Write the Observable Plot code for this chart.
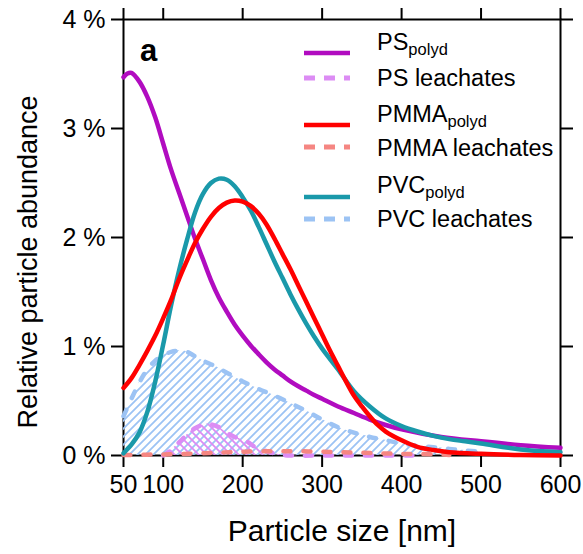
<!DOCTYPE html>
<html><head><meta charset="utf-8">
<script src="https://cdn.jsdelivr.net/npm/d3@7"></script>
<script src="https://cdn.jsdelivr.net/npm/@observablehq/plot@0.6"></script>
<style>
body{margin:0;background:#fff;}
#chart{position:relative;width:583px;height:554px;}
</style>
</head><body>
<svg width="0" height="0" style="position:absolute">
  <defs>
    <pattern id="hatchPVC" patternUnits="userSpaceOnUse" width="8" height="8">
      <path d="M-2,2 l4,-4 M0,8 l8,-8 M6,10 l4,-4" stroke="#9cc3f4" stroke-width="1.8" fill="none"/>
    </pattern>
    <pattern id="hatchPS" patternUnits="userSpaceOnUse" width="8" height="8">
      <path d="M-2,6 l4,4 M0,0 l8,8 M6,-2 l4,4" stroke="#dc8cf4" stroke-width="1.8" fill="none"/>
    </pattern>
  </defs>
</svg>
<div id="chart"></div>
<script>
// ---- data ----
const xTicks = [50, 100, 200, 300, 400, 500, 600];
const yTicks = [0, 1, 2, 3, 4];

const sizePS = [50, 55, 60, 70, 80, 90, 100, 110, 120, 130, 140, 150, 160, 170, 180, 190, 200, 210, 220, 230, 240, 250, 260, 270, 280, 290, 300, 320, 340, 360, 380, 400, 450, 500, 550, 600];
const psPolyd = [3.47, 3.505, 3.51, 3.43, 3.29, 3.10, 2.86, 2.62, 2.41, 2.20, 1.99, 1.80, 1.61, 1.45, 1.32, 1.20, 1.10, 1.01, 0.93, 0.855, 0.79, 0.735, 0.68, 0.635, 0.595, 0.555, 0.52, 0.45, 0.39, 0.33, 0.28, 0.24, 0.17, 0.13, 0.095, 0.07];

const sizePMMA = [50, 60, 70, 80, 90, 100, 110, 120, 130, 140, 150, 160, 170, 180, 190, 200, 210, 220, 230, 240, 250, 260, 270, 280, 290, 300, 310, 320, 330, 340, 350, 360, 370, 380, 400, 420, 440, 460, 500, 550, 600];
const pmmaPolyd = [0.62, 0.71, 0.83, 0.96, 1.10, 1.26, 1.43, 1.62, 1.79, 1.95, 2.08, 2.19, 2.27, 2.32, 2.34, 2.33, 2.29, 2.22, 2.12, 1.99, 1.85, 1.71, 1.56, 1.41, 1.26, 1.11, 0.96, 0.82, 0.68, 0.55, 0.45, 0.36, 0.28, 0.22, 0.14, 0.08, 0.05, 0.03, 0.015, 0.005, 0.0];

const sizePVC = [50, 55, 60, 70, 80, 90, 100, 110, 120, 130, 140, 150, 160, 170, 180, 190, 200, 210, 220, 230, 240, 250, 260, 270, 280, 290, 300, 320, 340, 360, 380, 400, 420, 440, 460, 480, 500, 550, 600];
const pvcPolyd = [0.02, 0.06, 0.10, 0.21, 0.40, 0.68, 1.02, 1.38, 1.70, 1.98, 2.23, 2.40, 2.50, 2.54, 2.53, 2.47, 2.37, 2.25, 2.10, 1.94, 1.78, 1.63, 1.48, 1.34, 1.21, 1.09, 0.98, 0.79, 0.59, 0.45, 0.34, 0.27, 0.22, 0.18, 0.15, 0.13, 0.11, 0.055, 0.03];

const sizePSl = [100, 110, 120, 130, 140, 155, 170, 180, 190, 205, 215, 230, 245, 260, 300, 350, 420];
const psLeach = [0.0, 0.05, 0.12, 0.19, 0.25, 0.29, 0.26, 0.21, 0.17, 0.13, 0.08, 0.04, 0.01, 0.0, 0.0, 0.0, 0.0];

const sizePMMAl = [50, 100, 150, 200, 250, 300, 350, 400, 450, 460];
const pmmaLeach = [0.005, 0.01, 0.02, 0.035, 0.04, 0.035, 0.025, 0.015, 0.01, 0.005];

const sizePVCl = [50, 60, 70, 80, 90, 100, 110, 120, 130, 140, 150, 165, 180, 200, 220, 240, 260, 280, 300, 320, 340, 360, 380, 400, 420, 440, 460, 480, 500];
const pvcLeach = [0.36, 0.52, 0.67, 0.79, 0.87, 0.92, 0.95, 0.96, 0.95, 0.91, 0.87, 0.82, 0.76, 0.68, 0.61, 0.55, 0.48, 0.41, 0.33, 0.26, 0.21, 0.17, 0.14, 0.11, 0.09, 0.075, 0.06, 0.045, 0.035];

const seriesNames = ["PS", "PS leachates", "PMMA", "PMMA leachates", "PVC", "PVC leachates"];
const seriesSubs = ["polyd", null, "polyd", null, "polyd", null];
const seriesColors = ["#b10cc0", "#dc8cf4", "#ff0000", "#f58682", "#1a99aa", "#9cc3f4"];

const rows = (xs, ys) => xs.map((x, i) => ({x, y: ys[i]}));
const C = {ps: "#b10cc0", psl: "#dc8cf4", pmma: "#ff0000", pmmal: "#f58682", pvc: "#1a99aa", pvcl: "#9cc3f4"};
const dash = {strokeWidth: 4.5, strokeDasharray: "7,13", strokeLinecap: "round", curve: "catmull-rom"};
const solid = {strokeWidth: 4.5, curve: "catmull-rom"};

const chart = Plot.plot({
  width: 583, height: 554,
  marginLeft: 123, marginRight: 23, marginTop: 19, marginBottom: 99,
  x: {domain: [50, 600]},
  y: {domain: [0, 4]},
  style: {fontFamily: "'Liberation Sans', Arial, sans-serif", fontSize: "25px", color: "black", background: "white", overflow: "visible"},
  marks: [
    Plot.axisX({anchor: "bottom", ticks: xTicks, tickSize: 12, tickPadding: 8, strokeWidth: 2, label: null}),
    Plot.axisX({anchor: "top", ticks: xTicks, tickSize: 12, strokeWidth: 2, tickFormat: () => "", label: null}),
    Plot.axisY({anchor: "left", ticks: yTicks, tickSize: 12, tickPadding: 6, strokeWidth: 2, tickFormat: d => `${d} %`, label: null}),
    Plot.axisY({anchor: "right", ticks: yTicks, tickSize: 12, strokeWidth: 2, tickFormat: () => "", label: null}),
    Plot.frame({stroke: "black", strokeWidth: 2}),
    Plot.areaY(rows(sizePVCl, pvcLeach), {x: "x", y: "y", fill: "url(#hatchPVC)", curve: "catmull-rom"}),
    Plot.areaY(rows(sizePSl, psLeach), {x: "x", y: "y", fill: "url(#hatchPS)", curve: "catmull-rom"}),
    Plot.line(rows(sizePVCl, pvcLeach), {x: "x", y: "y", stroke: C.pvcl, ...dash}),
    Plot.line(rows(sizePSl, psLeach), {x: "x", y: "y", stroke: C.psl, ...dash}),
    Plot.line(rows(sizePMMAl, pmmaLeach), {x: "x", y: "y", stroke: C.pmmal, ...dash}),
    Plot.line(rows(sizePS, psPolyd), {x: "x", y: "y", stroke: C.ps, ...solid}),
    Plot.line(rows(sizePVC, pvcPolyd), {x: "x", y: "y", stroke: C.pvc, ...solid}),
    Plot.line(rows(sizePMMA, pmmaPolyd), {x: "x", y: "y", stroke: C.pmma, ...solid})
  ]
});

const svg = d3.select(chart);
// axis titles and panel letter
svg.append("text").attr("x", 342).attr("y", 541).attr("text-anchor", "middle")
  .attr("font-size", 30).text("Particle size [nm]");
svg.append("text").attr("transform", "translate(37,262) rotate(-90)").attr("text-anchor", "middle")
  .attr("font-size", 27).text("Relative particle abundance");
svg.append("text").attr("x", 140).attr("y", 61).attr("text-anchor", "start")
  .attr("font-size", 31).attr("font-weight", "bold").text("a");

// legend
const lineYs = [53, 78, 125, 147, 197, 219];
const textYs = [50, 86, 122, 156, 193, 227];
const lg = svg.append("g").attr("text-anchor", "start");
seriesNames.forEach((name, i) => {
  const dashed = seriesSubs[i] === null;
  lg.append("line").attr("x1", 304).attr("x2", 350).attr("y1", lineYs[i]).attr("y2", lineYs[i])
    .attr("stroke", seriesColors[i]).attr("stroke-width", dashed ? 5 : 4.5)
    .attr("stroke-dasharray", dashed ? "11,9" : null);
  const t = lg.append("text").attr("x", 377).attr("y", textYs[i]).attr("font-size", 23.5);
  t.append("tspan").text(name);
  if (seriesSubs[i]) t.append("tspan").attr("dy", 5).attr("font-size", 16.5).text(seriesSubs[i]);
});

document.getElementById("chart").appendChild(chart);
</script>
</body></html>
